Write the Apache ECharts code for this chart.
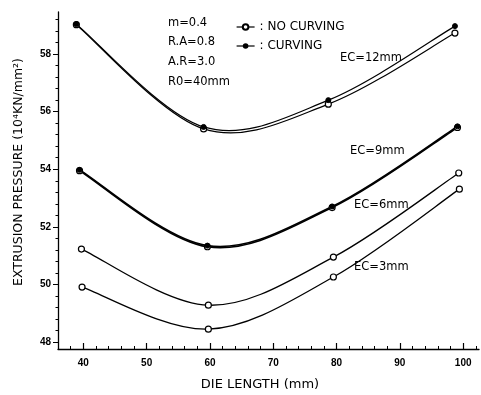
<!DOCTYPE html>
<html>
<head>
<meta charset="utf-8">
<script src="https://cdn.jsdelivr.net/npm/echarts@6/dist/echarts.min.js"></script>
<style>
html,body{margin:0;padding:0;background:#fff}
#chart{width:481px;height:395px}
</style>
</head>
<body>
<div id="chart"></div>
<script>
// values
var ec12X = [38.9, 59.0, 78.7, 98.7];
var ec12Open = [59.02, 55.40, 56.26, 58.73];
var ec12Filled = [59.04, 55.47, 56.40, 58.97];
var ec9X = [39.4, 59.6, 79.3, 99.1];
var ec9Open = [53.95, 51.31, 52.67, 55.45];
var ec9Filled = [53.98, 51.35, 52.71, 55.49];
var ec6X = [39.7, 59.75, 79.5, 99.3];
var ec6Open = [51.23, 49.28, 50.95, 53.87];
var ec3X = [39.8, 59.75, 79.5, 99.4];
var ec3Open = [49.91, 48.45, 50.26, 53.31];

var xLabels = [40, 50, 60, 70, 80, 90, 100];
var yLabels = [48, 50, 52, 54, 56, 58];
var paramText = ['m=0.4', 'R.A=0.8', 'A.R=3.0', 'R0=40mm'];
var ecText = ['EC=12mm', 'EC=9mm', 'EC=6mm', 'EC=3mm'];

function pairs(xs, ys) {
    var out = [];
    for (var i = 0; i < xs.length; i++) out.push([xs[i], ys[i]]);
    return out;
}
function steps(from, to, step) {
    var out = [];
    for (var v = from; v <= to + 1e-9; v += step) out.push(Math.round(v * 100) / 100);
    return out;
}

var font = 'Liberation Sans, Arial, sans-serif';
var wide = 'DejaVu Sans, sans-serif';

// catmull-rom curve through the points, in pixel space
function curveSeries(xs, ys, width) {
    return {
        type: 'custom', silent: true, z: 2,
        data: pairs(xs, ys),
        renderItem: function (params, api) {
            if (params.dataIndex !== 0) return;
            var p = [];
            for (var i = 0; i < xs.length; i++) p.push(api.coord([xs[i], ys[i]]));
            var n = p.length, kids = [];
            function pt(i) { return p[Math.max(0, Math.min(n - 1, i))]; }
            for (var k = 0; k < n - 1; k++) {
                var p0 = pt(k - 1), p1 = p[k], p2 = p[k + 1], p3 = pt(k + 2);
                kids.push({
                    type: 'bezierCurve',
                    shape: {
                        x1: p1[0], y1: p1[1],
                        cpx1: p1[0] + (p2[0] - p0[0]) / 6, cpy1: p1[1] + (p2[1] - p0[1]) / 6,
                        cpx2: p2[0] - (p3[0] - p1[0]) / 6, cpy2: p2[1] - (p3[1] - p1[1]) / 6,
                        x2: p2[0], y2: p2[1]
                    },
                    style: {stroke: '#000', lineWidth: width, fill: null}
                });
            }
            return {type: 'group', children: kids};
        }
    };
}
function openSeries(xs, ys) {
    return {
        name: 'NO CURVING', type: 'line',
        data: pairs(xs, ys),
        symbol: 'circle', symbolSize: 6,
        itemStyle: {color: '#fff', borderColor: '#000', borderWidth: 1.2},
        lineStyle: {opacity: 0},
        z: 3
    };
}
function filledSeries(xs, ys) {
    return {
        name: 'CURVING', type: 'line',
        data: pairs(xs, ys),
        symbol: 'circle', symbolSize: 5,
        itemStyle: {color: '#000', borderColor: '#000'},
        lineStyle: {opacity: 0},
        z: 4
    };
}

var graphics = [];
var paramTop = [17, 36, 56, 76];
for (var i = 0; i < paramText.length; i++) {
    graphics.push({type: 'text', left: 168, top: paramTop[i],
        style: {text: paramText[i], font: '11.5px ' + wide, fill: '#000'}});
}
var ecPos = [[340, 52], [350, 145], [354, 199], [354, 261]];
for (var j = 0; j < ecText.length; j++) {
    graphics.push({type: 'text', left: ecPos[j][0], top: ecPos[j][1],
        style: {text: ecText[j], font: '11.5px ' + wide, fill: '#000'}});
}
graphics.push({type: 'text', x: 19, y: 172, rotation: Math.PI / 2,
    style: {text: 'EXTRUSION PRESSURE (10\u2074KN/mm\u00b2)', font: '12.5px ' + wide, fill: '#000',
            align: 'center', verticalAlign: 'middle'}});
graphics.push({type: 'text', x: 260, y: 385,
    style: {text: 'DIE LENGTH (mm)', font: '13px ' + wide, fill: '#000',
            align: 'center', verticalAlign: 'middle'}});

var myChart = echarts.init(document.getElementById('chart'));
var option = {
    backgroundColor: '#fff',
    animation: false,
    grid: {left: 58, right: 2, top: 12, bottom: 46},
    legend: {
        orient: 'vertical', left: 231, top: 16,
        itemWidth: 18, itemHeight: 7, itemGap: 7,
        data: ['NO CURVING', 'CURVING'],
        formatter: ': {name}',
        lineStyle: {color: '#000', width: 1.2, opacity: 1},
        textStyle: {fontFamily: wide, fontSize: 12, color: '#000'}
    },
    xAxis: [{
        type: 'value', min: 36, max: 102.5,
        axisLine: {lineStyle: {color: '#000', width: 1.3}},
        axisTick: {inside: true, length: 3, customValues: steps(36, 102, 2), lineStyle: {color: '#000'}},
        axisLabel: {customValues: xLabels, color: '#000', fontFamily: font, fontSize: 10, fontWeight: 'bold', margin: 9},
        splitLine: {show: false}
    }, {
        type: 'value', min: 36, max: 102.5, position: 'bottom',
        axisLine: {show: false},
        axisTick: {inside: true, length: 6, customValues: xLabels, lineStyle: {color: '#000', width: 1.2}},
        axisLabel: {show: false},
        splitLine: {show: false}
    }],
    yAxis: [{
        type: 'value', min: 47.76, max: 59.46,
        axisLine: {lineStyle: {color: '#000', width: 1.3}},
        axisTick: {length: 5, customValues: yLabels, lineStyle: {color: '#000'}},
        axisLabel: {customValues: yLabels, color: '#000', fontFamily: font, fontSize: 10, fontWeight: 'bold', margin: 7},
        splitLine: {show: false}
    }, {
        type: 'value', min: 47.76, max: 59.46, position: 'left',
        axisLine: {show: false},
        axisTick: {length: 2.5, customValues: steps(48, 59.2, 0.4), lineStyle: {color: '#000'}},
        axisLabel: {show: false},
        splitLine: {show: false}
    }],
    series: [
        curveSeries(ec12X, ec12Open, 1.2),
        curveSeries(ec12X, ec12Filled, 1.2),
        curveSeries(ec9X, ec9Open, 1.6),
        curveSeries(ec9X, ec9Filled, 1.6),
        curveSeries(ec6X, ec6Open, 1.3),
        curveSeries(ec3X, ec3Open, 1.3),
        openSeries(ec12X, ec12Open),
        filledSeries(ec12X, ec12Filled),
        openSeries(ec9X, ec9Open),
        filledSeries(ec9X, ec9Filled),
        openSeries(ec6X, ec6Open),
        openSeries(ec3X, ec3Open)
    ],
    graphic: graphics
};
myChart.setOption(option);
</script>
</body>
</html>
